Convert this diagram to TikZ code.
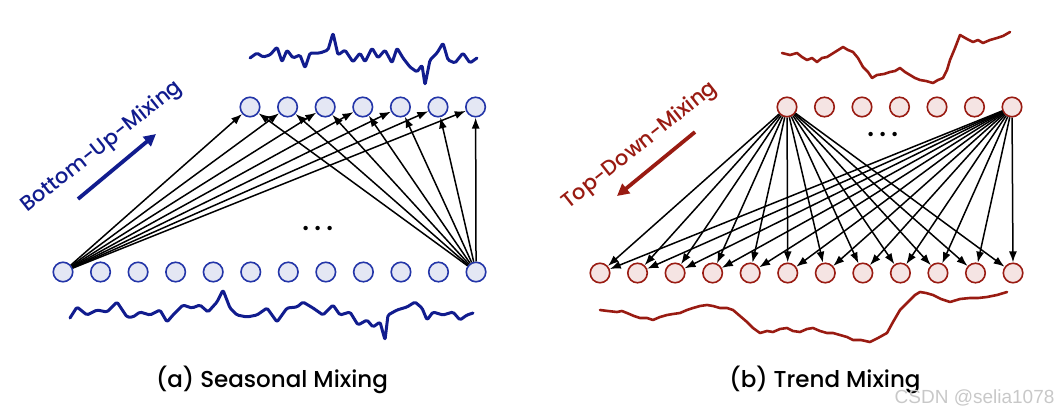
\documentclass[tikz,border=0pt]{standalone}
\usepackage{fontspec}
\setmainfont{Poppins}[UprightFont={* Medium}]
\newfontfamily\wmfont{Liberation Sans}
\usetikzlibrary{arrows.meta}
\definecolor{mixNavy}{HTML}{111C8E}
\definecolor{mixBlueLine}{HTML}{2335A8}
\definecolor{mixBluePale}{HTML}{E4E7F4}
\definecolor{mixRed}{HTML}{991B12}
\definecolor{mixRedPale}{HTML}{F5E4E3}
\definecolor{mixMark}{HTML}{C8C8C8}
\tikzset{
  mix season node/.style={circle, draw=mixBlueLine, fill=mixBluePale, line width=1.6pt, minimum size=19.5pt, inner sep=0pt},
  mix trend node/.style={circle, draw=mixRed, fill=mixRedPale, line width=1.6pt, minimum size=19.5pt, inner sep=0pt},
  mix edge/.style={draw=black, line width=1.5pt, -{Latex[length=11pt,width=8pt]}},
  mix season wave/.style={draw=mixNavy, line width=3pt, line join=round, line cap=round, rounded corners=1.5pt},
  mix trend wave/.style={draw=mixRed, line width=2.6pt, line join=round, line cap=round},
  mix dir label/.style={font=\fontsize{21}{24}\selectfont, rotate=38.5},
  mix dir arrow/.style={line width=3.8pt, -{Triangle[length=12pt,width=12pt]}},
  mix caption/.style={font=\fontsize{23}{28}\selectfont, text=black},
  mix dots/.style={font=\fontsize{30}{32}\selectfont},
}

\begin{document}
\begin{tikzpicture}[x=1pt, y=-1pt]
  \useasboundingbox (0,0) rectangle (1062,415);
  % ----- (a) seasonal: bottom-up -----
  \draw[mix season wave] (250,58) -- (257,53) -- (263,57) -- (270,55) -- (277,47) -- (282,62) -- (287,50) -- (293,58)
    -- (300,55) -- (305,68) -- (310,53) -- (320,53) -- (328,50) -- (333,33) -- (338,55) -- (345,50) -- (353,62)
    -- (360,53) -- (365,62) -- (372,48) -- (378,58) -- (385,50) -- (392,63) -- (397,48) -- (403,58) -- (410,67)
    -- (417,72) -- (422,65) -- (425,85) -- (430,60) -- (437,53) -- (443,43) -- (448,60) -- (455,63) -- (463,53)
    -- (470,63) -- (477,58);
  \draw[mix season wave] (70,318) -- (77,307) -- (87,315) -- (97,310) -- (107,312) -- (117,302) -- (127,317)
    -- (133,317) -- (140,312) -- (150,315) -- (160,310) -- (167,322) -- (173,315) -- (183,305) -- (192,308)
    -- (200,305) -- (208,312) -- (217,302) -- (223,290) -- (230,308) -- (237,315) -- (247,317) -- (257,315)
    -- (267,308) -- (277,322) -- (287,308) -- (297,307) -- (303,302) -- (313,308) -- (323,315) -- (333,305)
    -- (340,315) -- (350,312) -- (358,325) -- (367,320) -- (373,327) -- (380,322) -- (385,340) -- (388,315)
    -- (397,310) -- (407,307) -- (415,302) -- (422,308) -- (427,320) -- (433,312) -- (443,315) -- (453,312)
    -- (460,320) -- (467,315) -- (473,313);
  \foreach \i in {1,...,12}
    \node[mix season node] (sb\i) at ({63+(\i-1)*37.55},272) {};
  \foreach \i in {1,...,7}
    \node[mix season node] (st\i) at ({250+(\i-1)*37.6},107) {};
  \foreach \i in {1,...,7} {
    \draw[mix edge] (sb1) -- (st\i);
    \draw[mix edge] (sb12) -- (st\i);
  }
  \node[mix dots] (sdots) at (318,229) {.\,.\,.};
  \node[mix dir label, text=mixNavy] (slabel) at (102,147) {Bottom-Up-Mixing};
  \coordinate (sarrowA) at (78,199);
  \coordinate (sarrowB) at (156,134);
  \draw[mix dir arrow, draw=mixNavy, fill=mixNavy] (sarrowA) -- (sarrowB);
  \node[mix caption] (scap) at (272,380) {(a) Seasonal Mixing};
  % ----- (b) trend: top-down -----
  \draw[mix trend wave] (782,53) -- (790,55) -- (797,53) -- (802,57) -- (807,60) -- (812,58) -- (817,62) -- (822,58)
    -- (827,57) -- (835,52) -- (843,47) -- (848,50) -- (853,52) -- (858,58) -- (863,67) -- (868,72) -- (872,78)
    -- (877,75) -- (884,74) -- (890,72) -- (895,71) -- (900,68) -- (905,72) -- (910,75) -- (915,78) -- (920,80)
    -- (926,81) -- (933,83) -- (938,80) -- (943,78) -- (947,70) -- (950,60) -- (955,48) -- (960,35) -- (967,39)
    -- (973,42) -- (978,40) -- (983,43) -- (990,40) -- (997,38) -- (1003,36) -- (1010,32);
  \draw[mix trend wave] (600,310) -- (608,311) -- (617,312) -- (622,311) -- (627,313) -- (634,316) -- (640,318)
    -- (647,318) -- (653,320) -- (660,317) -- (667,315) -- (673,314) -- (680,313) -- (687,310) -- (693,308)
    -- (700,306) -- (707,305) -- (713,306) -- (720,308) -- (727,308) -- (733,310) -- (740,316) -- (747,322)
    -- (753,328) -- (760,333) -- (767,331) -- (773,332) -- (780,329) -- (787,328) -- (793,331) -- (800,332)
    -- (807,329) -- (813,328) -- (820,331) -- (827,333) -- (833,333) -- (840,335) -- (847,337) -- (853,340)
    -- (861,340) -- (870,342) -- (878,338) -- (887,333) -- (893,322) -- (900,310) -- (905,305) -- (910,300)
    -- (915,295) -- (920,292) -- (926,293) -- (933,295) -- (941,299) -- (950,302) -- (960,299) -- (970,298)
    -- (978,298) -- (987,297) -- (997,295) -- (1007,292);
  \foreach \i in {1,...,7}
    \node[mix trend node] (tt\i) at ({787+(\i-1)*37.5},107) {};
  \foreach \i in {1,...,12}
    \node[mix trend node] (tb\i) at ({600+(\i-1)*37.55},273) {};
  \foreach \i in {1,...,12} {
    \draw[mix edge] (tt1) -- (tb\i);
    \draw[mix edge] (tt7) -- (tb\i);
  }
  \node[mix dots] (tdots) at (883,135) {.\,.\,.};
  \node[mix dir label, text=mixRed] (tlabel) at (640,146) {Top-Down-Mixing};
  \coordinate (tarrowA) at (695,132);
  \coordinate (tarrowB) at (617,196);
  \draw[mix dir arrow, draw=mixRed, fill=mixRed] (tarrowA) -- (tarrowB);
  \node[mix caption] (tcap) at (825,380) {(b) Trend Mixing};
  \node[font=\wmfont\fontsize{19}{22}\selectfont, text=mixMark, anchor=east] (wmark) at (1058,398) {CSDN @selia1078};
\end{tikzpicture}
\end{document}
